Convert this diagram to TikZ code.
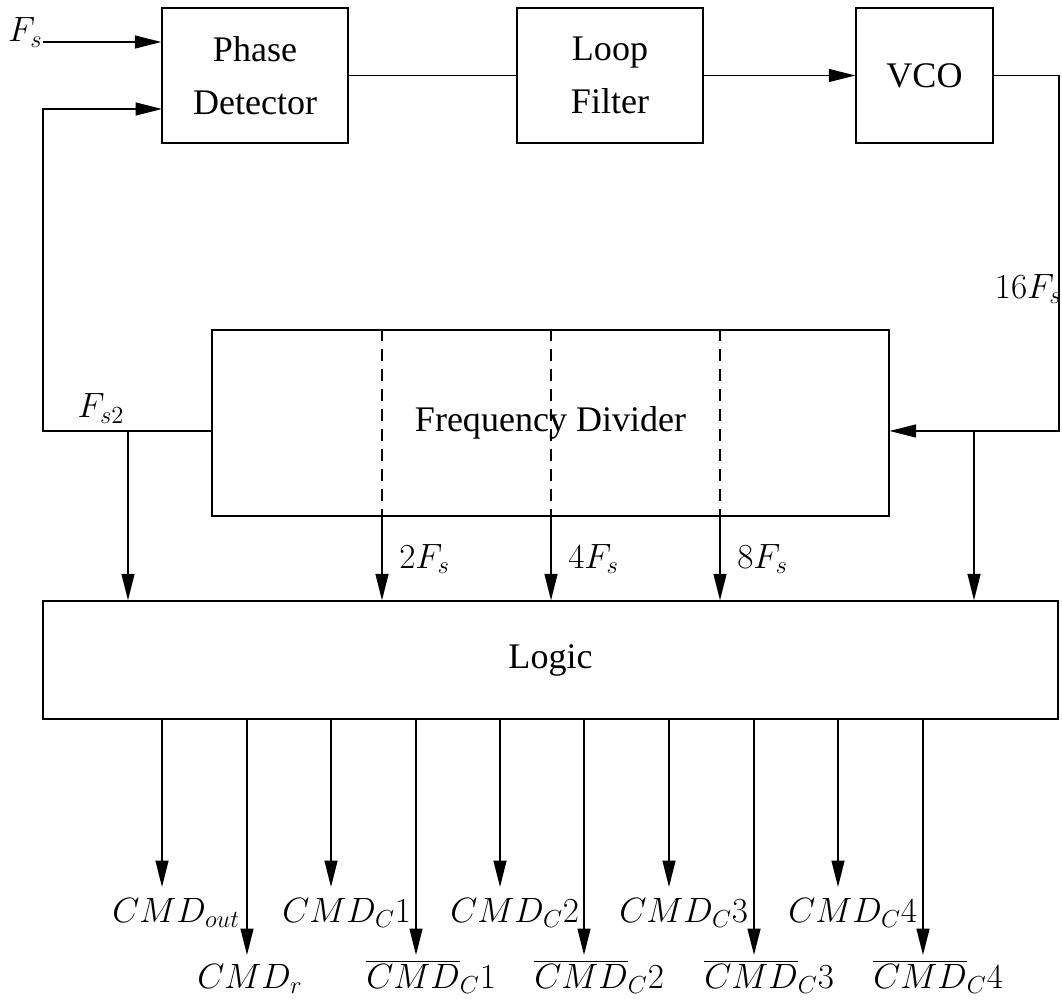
\RequirePackage{fix-cm}
\documentclass[tikz,border=0pt]{standalone}
\usepackage[no-math]{fontspec}
\setmainfont{Liberation Serif}
\usetikzlibrary{arrows.meta,positioning}

\begin{document}
\begin{tikzpicture}[
    x=0.02cm, y=-0.02cm,
    blk/.style={rectangle, draw, line width=0.8pt, inner sep=0pt, align=center,
                font=\fontsize{20.5}{30}\selectfont},
    wire/.style={line width=0.8pt},
    tap/.style={line width=0.8pt, dash pattern=on 2.4mm off 1.6mm},
    arr/.style={-{Triangle[length=5.3mm,width=2.6mm]}, line width=0.8pt},
    sig/.style={inner sep=0pt, font=\fontsize{20}{24}\selectfont}]
\useasboundingbox (0,0) rectangle (1062,1000);
% blocks
\node[blk, minimum width=3.72cm, minimum height=2.7cm] (pd) at (255,75.5) {Phase\\Detector};
\node[blk, minimum width=3.72cm, minimum height=2.7cm] (lf) at (610,75.5) {Loop\\Filter};
\node[blk, minimum width=2.74cm, minimum height=2.7cm] (vco) at (924.5,75.5) {VCO};
\node[blk, minimum width=13.54cm, minimum height=3.72cm] (fd) at (550.5,423) {Frequency Divider};
\node[blk, minimum width=20.3cm, minimum height=2.36cm] (logic) at (550.5,660) {Logic};
% loop
\node[sig, anchor=base east] (fs) at (43,42) {$F_s$};
\draw[arr] (fs.base east) -- (fs.base east -| pd.west);
\draw[wire] (pd) -- (lf);
\draw[arr] (lf) -- (vco);
\coordinate (vcor) at (1059,75.5);
\coordinate (fbr) at (1059,431);
\coordinate (fbl) at (43,431);
\coordinate (pdfb) at (162,109);
\draw[arr] (vco.east) -- (vcor) -- (fbr) -- (fbr -| fd.east);
\draw[arr] (fd.west |- fbl) -- (fbl) |- (pdfb);
\node[sig, anchor=base east] (f16) at (1062,298) {$16F_s$};
\node[sig, anchor=base] (fs2) at (101,418) {$F_{s2}$};
% inputs of the logic block
\coordinate (tfs2) at (128,431);
\coordinate (tf16) at (974,431);
\draw[arr] (tfs2) -- (tfs2 |- logic.north);
\draw[arr] (tf16) -- (tf16 |- logic.north);
\coordinate (t2) at (382,0);
\coordinate (t4) at (551,0);
\coordinate (t8) at (720,0);
\draw[tap] (t2 |- fd.north) -- (t2 |- fd.south);
\draw[tap] (t4 |- fd.north) -- (t4 |- fd.south);
\draw[tap] (t8 |- fd.north) -- (t8 |- fd.south);
\draw[arr] (t2 |- fd.south) -- (t2 |- logic.north);
\draw[arr] (t4 |- fd.south) -- (t4 |- logic.north);
\draw[arr] (t8 |- fd.south) -- (t8 |- logic.north);
\node[sig, anchor=base west] (f2) at (399,568) {$2F_s$};
\node[sig, anchor=base west] (f4) at (568,568) {$4F_s$};
\node[sig, anchor=base west] (f8) at (737,568) {$8F_s$};
% outputs
\coordinate (o1) at (162,887);  \coordinate (o2) at (247,955);
\coordinate (o3) at (331,887);  \coordinate (o4) at (416,955);
\coordinate (o5) at (500,887);  \coordinate (o6) at (584,955);
\coordinate (o7) at (669,887);  \coordinate (o8) at (754,955);
\coordinate (o9) at (838,887);  \coordinate (o10) at (923,955);
\draw[arr] (o1 |- logic.south) -- (o1);  \draw[arr] (o2 |- logic.south) -- (o2);
\draw[arr] (o3 |- logic.south) -- (o3);  \draw[arr] (o4 |- logic.south) -- (o4);
\draw[arr] (o5 |- logic.south) -- (o5);  \draw[arr] (o6 |- logic.south) -- (o6);
\draw[arr] (o7 |- logic.south) -- (o7);  \draw[arr] (o8 |- logic.south) -- (o8);
\draw[arr] (o9 |- logic.south) -- (o9);  \draw[arr] (o10 |- logic.south) -- (o10);
\node[sig, anchor=base west] (cout) at (112,922) {$CMD_{out}$};
\node[sig, anchor=base west] (cr) at (197,988) {$CMD_r$};
\node[sig, anchor=base west] (c1) at (282,922) {$CMD_C1$};
\node[sig, anchor=base west] (nc1) at (366,988) {$\overline{CMD}_C1$};
\node[sig, anchor=base west] (c2) at (450,922) {$CMD_C2$};
\node[sig, anchor=base west] (nc2) at (534,988) {$\overline{CMD}_C2$};
\node[sig, anchor=base west] (c3) at (619,922) {$CMD_C3$};
\node[sig, anchor=base west] (nc3) at (704,988) {$\overline{CMD}_C3$};
\node[sig, anchor=base west] (c4) at (788,922) {$CMD_C4$};
\node[sig, anchor=base west] (nc4) at (873,988) {$\overline{CMD}_C4$};
\end{tikzpicture}
\end{document}
